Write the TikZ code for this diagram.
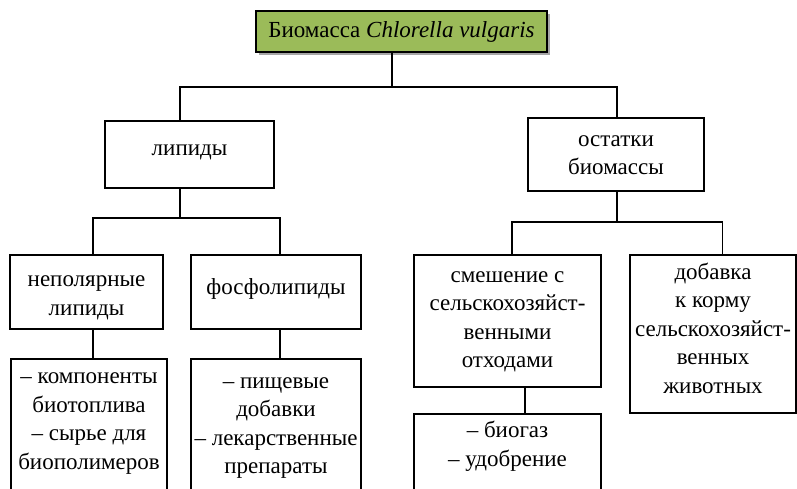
\documentclass[tikz,border=0pt]{standalone}
\usepackage{fontspec}
\setmainfont{Liberation Serif}
\usetikzlibrary{shadows}
\definecolor{olive}{RGB}{155,187,89}
\begin{document}
\begin{tikzpicture}[x=1pt,y=-1pt,
  box/.style={draw=black,line width=1.3pt,rectangle,inner sep=0pt,align=center},
  txt/.style={align=center,inner sep=0pt},
  conn/.style={draw=black,line width=1.3pt},
  every node/.append style={font=\fontsize{23}{28.5}\selectfont}]
\useasboundingbox (0,0) rectangle (797,488);
\clip (0,0) rectangle (797,488);
% boxes
\node[box,fill=olive,minimum width=291pt,minimum height=41pt,
  drop shadow={shadow xshift=3pt,shadow yshift=-3pt,fill=black!35,opacity=1}]
  (top) at (401.5,31.5) {Биомасса \textit{Chlorella vulgaris}};
\node[box,minimum width=169pt,minimum height=67pt] (lip) at (189.5,154.5) {};
\node[txt] (lipt) at (189.5,152.5) {липиды};
\node[box,minimum width=176pt,minimum height=73pt] (ost) at (616,154.5) {};
\node[txt] (ostt) at (616,155) {остатки\\биомассы};
\node[box,minimum width=153pt,minimum height=74pt] (nep) at (86.5,292) {};
\node[txt] (nept) at (86.5,298) {неполярные\\липиды};
\node[box,minimum width=170pt,minimum height=74pt] (fos) at (276,292) {};
\node[txt] (fost) at (276,288.5) {фосфолипиды};
\node[box,minimum width=156pt,minimum height=161pt] (bl1) at (89,439.5) {};
\node[txt] (bl1t) at (89,423.5) {– компоненты\\биотоплива\\– сырье для\\биополимеров};
\node[box,minimum width=170pt,minimum height=161pt] (bl2) at (276,439.5) {};
\node[txt] (bl2t) at (276,428) {– пищевые\\добавки\\– лекарственные\\препараты};
\node[box,minimum width=187pt,minimum height=132pt] (sme) at (507.5,321) {};
\node[txt] (smet) at (507.5,322) {смешение с\\сельскохозяйст-\\венными\\отходами};
\node[box,minimum width=166pt,minimum height=158pt] (dob) at (713,334) {};
\node[txt] (dobt) at (713,328) {добавка\\к корму\\сельскохозяйст-\\венных\\животных};
\node[box,minimum width=187pt,minimum height=106pt] (bio) at (507.5,467) {};
\node[txt] (biot) at (507.5,446) {– биогаз\\– удобрение};
% junction coordinates
\coordinate (j0) at (392,87);
\coordinate (jL) at (180,87);
\coordinate (jR) at (617,87);
\coordinate (k0) at (180,218);
\coordinate (kL) at (93,218);
\coordinate (kR) at (280,218);
\coordinate (m0) at (617,222);
\coordinate (mL) at (512,222);
\coordinate (mR) at (722.5,222);
\coordinate (nA) at (93,0);
\coordinate (nB) at (280,0);
\coordinate (nC) at (525,0);
% connectors
\draw[conn] (j0 |- top.south) -- (j0);
\draw[conn] (jL |- lip.north) -- (jL) -- (jR) -- (jR |- ost.north);
\draw[conn] (k0 |- lip.south) -- (k0);
\draw[conn] (kL |- nep.north) -- (kL) -- (kR) -- (kR |- fos.north);
\draw[conn] (m0 |- ost.south) -- (m0);
\draw[conn] (mL |- sme.north) -- (mL) -- (mR) -- (mR |- dob.north);
\draw[conn] (nA |- nep.south) -- (nA |- bl1.north);
\draw[conn] (nB |- fos.south) -- (nB |- bl2.north);
\draw[conn] (nC |- sme.south) -- (nC |- bio.north);
\end{tikzpicture}
\end{document}
